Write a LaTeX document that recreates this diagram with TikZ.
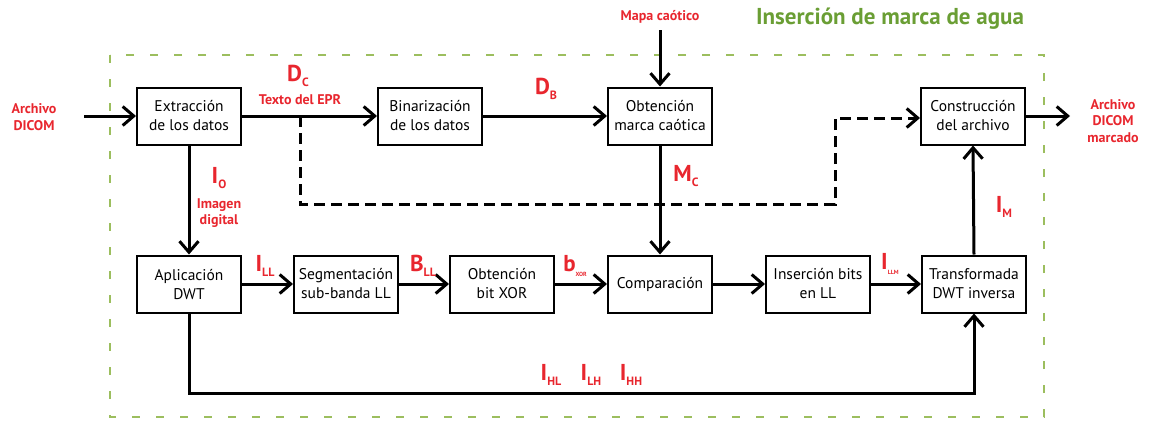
\documentclass[tikz,border=0pt]{standalone}
\usepackage{fontspec}
\setmainfont{PT Sans}
\usetikzlibrary{arrows.meta}
\definecolor{lred}{HTML}{E8262E}
\definecolor{lgreen}{HTML}{6A9E34}
\definecolor{bgreen}{HTML}{9CBE5E}
\newcommand{\sublab}[2]{#1\raisebox{-0.22em}{\fontsize{12}{12}\selectfont #2}}
\begin{document}
\begin{tikzpicture}[x=1pt,y=-1pt,
  blk/.style={draw,line width=2pt,minimum width=104pt,minimum height=57pt,align=center,font=\fontsize{15.5}{19}\selectfont,inner sep=1pt},
  flow/.style={line width=3pt,-{Straight Barb[length=11pt,width=19pt,line width=3pt]}},
  dflow/.style={flow,dash pattern=on 11pt off 6pt},
  big/.style={text=lred,font=\fontsize{23}{25}\selectfont\bfseries,inner sep=0pt},
  small/.style={text=lred,font=\fontsize{14}{16.5}\selectfont\bfseries,align=center,inner sep=0pt},
  frame/.style={draw=bgreen,line width=2pt,dash pattern=on 8pt off 16pt}
]
\useasboundingbox (0,0) rectangle (1149,426);
\draw[frame] (110,55) rectangle (1044,417);
\node[text=lgreen,font=\fontsize{23}{25}\selectfont\bfseries] (title) at (890,19) {Inserción de marca de agua};
\node[small] (mapa) at (660,17) {Mapa caótico};
\node[small] (inp) at (34,117) {Archivo\\DICOM};
\node[small] (outp) at (1113,121) {Archivo\\DICOM\\marcado};

\node[blk] (ext) at (189,116) {Extracción\\de los datos};
\node[blk] (bin) at (430,116) {Binarización\\de los datos};
\node[blk] (obt) at (660,116) {Obtención\\marca caótica};
\node[blk] (con) at (973,116) {Construcción\\del archivo};
\node[blk] (dwt) at (189,284) {Aplicación\\DWT};
\node[blk] (seg) at (346,284) {Segmentación\\sub-banda LL};
\node[blk] (xor) at (502,284) {Obtención\\bit XOR};
\node[blk] (comp) at (660,284) {Comparación};
\node[blk] (ins) at (818,284) {Inserción bits\\en LL};
\node[blk] (idwt) at (974,284) {Transformada\\DWT inversa};

\coordinate (inA) at (84,116);
\coordinate (outA) at (1070,116);
\coordinate (mapA) at (660,30);
\coordinate (d0) at (300,116);
\coordinate (d1) at (300,204);
\coordinate (d2) at (835,204);
\coordinate (d3) at (835,118);
\coordinate (b1) at (189,393);
\coordinate (b2) at (974,393);

\draw[flow] (inA) -- (ext.west);
\draw[flow] (ext.east) -- (bin.west);
\draw[flow] (bin.east) -- (obt.west);
\draw[flow] (mapA) -- (obt.north);
\draw[flow] (con.east) -- (outA);
\draw[dflow] (d0) -- (d1) -- (d2) -- (d3) -- (con.west |- d3);
\draw[flow] (ext.south) -- (dwt.north);
\draw[flow] (obt.south) -- (comp.north);
\draw[flow] (dwt.east) -- (seg.west);
\draw[flow] (seg.east) -- (xor.west);
\draw[flow] (xor.east) -- (comp.west);
\draw[flow] (comp.east) -- (ins.west);
\draw[flow] (ins.east) -- (idwt.west);
\draw[flow] (idwt.north) -- (con.south);
\draw[flow] (dwt.south) -- (b1) -- (b2) -- (idwt.south);

\node[big] (dc) at (298,76) {\sublab{D}{C}};
\node[small] (epr) at (300,100) {Texto del EPR};
\node[big] (db) at (546,89) {\sublab{D}{B}};
\node[big] (io) at (219,178) {\sublab{I}{O}};
\node[small] (img) at (219,213) {Imagen\\digital};
\node[big] (mc) at (686,176) {\sublab{M}{C}};
\node[big] (im) at (1004,207) {\sublab{I}{M}};
\node[big] (ill) at (265,266) {\sublab{I}{LL}};
\node[big] (bll) at (423,266) {\sublab{B}{LL}};
\node[big] (bx) at (575,266) {\sublab{b}{\fontsize{6}{6}\selectfont XOR}};
\node[big] (illm) at (890,264) {\sublab{I}{\fontsize{6}{6}\selectfont LLM}};
\node[big] (ihl) at (551,375) {\sublab{I}{HL}};
\node[big] (ilh) at (591,375) {\sublab{I}{LH}};
\node[big] (ihh) at (631,375) {\sublab{I}{HH}};
\end{tikzpicture}
\end{document}
